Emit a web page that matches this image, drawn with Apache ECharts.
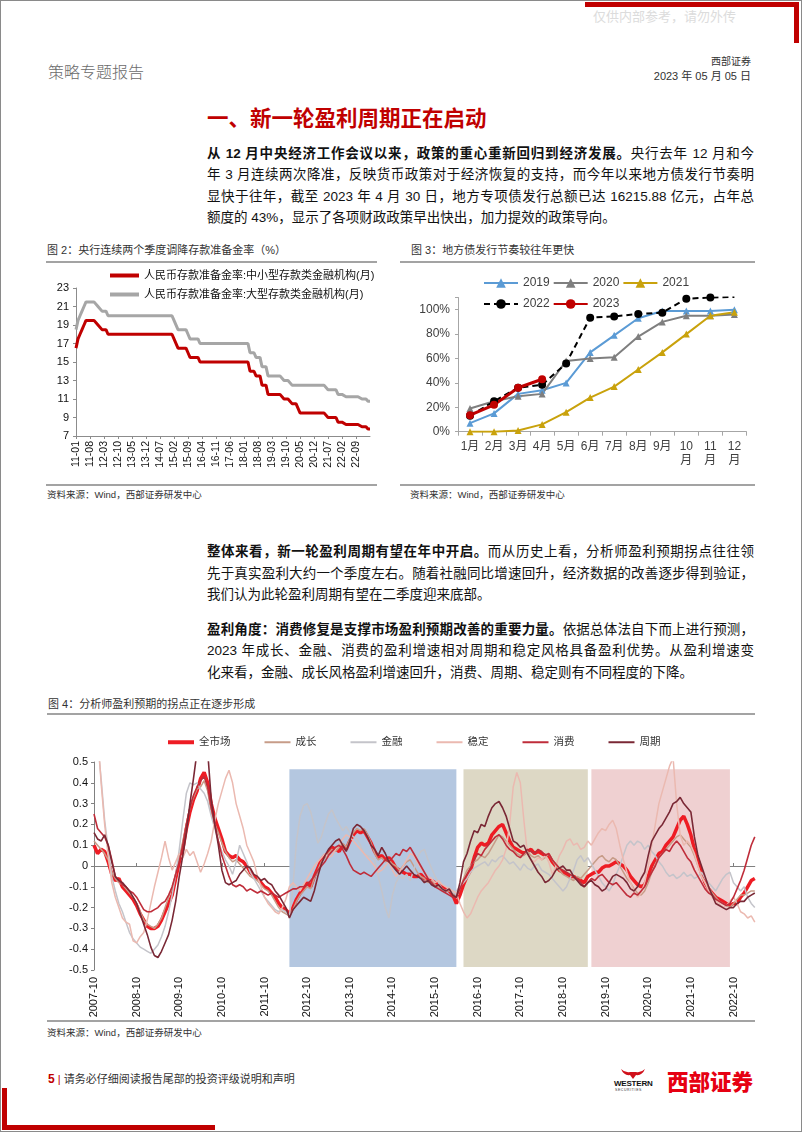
<!DOCTYPE html>
<html><head><meta charset="utf-8">
<script src="https://cdn.jsdelivr.net/npm/echarts/dist/echarts.min.js"></script>
<style>
html,body{margin:0;padding:0;background:#fff;}
#page{position:relative;width:802px;height:1133px;overflow:hidden;font-family:"Liberation Sans","Noto Sans CJK SC",sans-serif;color:#000;}
.a{position:absolute;white-space:nowrap;}
.ln{position:absolute;left:207px;width:547px;font-size:13.5px;line-height:21.5px;height:21.5px;text-align:justify;text-align-last:justify;color:#111;}
.ln.last{text-align-last:left;}
.rule{position:absolute;height:2px;background:#a3a3a3;}
.red{position:absolute;background:#c00000;}
.cap{font-size:11px;color:#333;line-height:14px;}
.src{font-size:9.5px;color:#333;line-height:12px;}
#chart{position:absolute;left:0;top:0;width:802px;height:1133px;}
</style></head>
<body><div id="page">
<div class="a" style="left:0;top:0;width:800px;height:1130px;border:1px solid #8a8a8a;"></div>
<div class="red" style="left:585px;top:2px;width:214px;height:5px;"></div>
<div class="red" style="left:794px;top:2px;width:5px;height:41px;"></div>
<div class="red" style="left:2px;top:1088px;width:5px;height:42px;"></div>
<div class="red" style="left:2px;top:1125px;width:213px;height:5px;"></div>
<div class="a" style="left:593px;top:9px;font-size:13px;line-height:16px;color:#dcdcdc;">仅供内部参考，请勿外传</div>
<div class="a" style="left:48px;top:63px;font-size:16px;line-height:20px;color:#6b6b6b;font-weight:300;">策略专题报告</div>
<div class="a" style="right:51px;top:55px;font-size:10px;line-height:13px;color:#333;">西部证券</div>
<div class="a" style="right:51px;top:70px;font-size:11px;line-height:13px;color:#333;">2023 年 05 月 05 日</div>
<div class="a" style="left:207px;top:106px;font-size:21.5px;line-height:26px;font-weight:bold;color:#c00000;">一、新一轮盈利周期正在启动</div>

<div class="ln" style="top:142.5px;"><b>从 12 月中央经济工作会议以来，政策的重心重新回归到经济发展。</b>央行去年 12 月和今</div>
<div class="ln" style="top:164px;">年 3 月连续两次降准，反映货币政策对于经济恢复的支持，而今年以来地方债发行节奏明</div>
<div class="ln" style="top:185.5px;">显快于往年，截至 2023 年 4 月 30 日，地方专项债发行总额已达 16215.88 亿元，占年总</div>
<div class="ln last" style="top:207px;">额度的 43%，显示了各项财政政策早出快出，加力提效的政策导向。</div>

<div class="a cap" style="left:47px;top:243px;">图 2：央行连续两个季度调降存款准备金率（%）</div>
<div class="a cap" style="left:411px;top:243px;">图 3：地方债发行节奏较往年更快</div>
<div class="rule" style="left:46px;top:261px;width:331px;"></div>
<div class="rule" style="left:400px;top:261px;width:355px;"></div>
<div class="rule" style="left:46px;top:484px;width:331px;"></div>
<div class="rule" style="left:400px;top:484px;width:355px;"></div>
<div class="a src" style="left:47px;top:489px;">资料来源：Wind，西部证券研发中心</div>
<div class="a src" style="left:410px;top:489px;">资料来源：Wind，西部证券研发中心</div>

<div class="ln" style="top:541px;"><b>整体来看，新一轮盈利周期有望在年中开启。</b>而从历史上看，分析师盈利预期拐点往往领</div>
<div class="ln" style="top:562.5px;">先于真实盈利大约一个季度左右。随着社融同比增速回升，经济数据的改善逐步得到验证，</div>
<div class="ln last" style="top:584px;">我们认为此轮盈利周期有望在二季度迎来底部。</div>
<div class="ln" style="top:618.5px;"><b>盈利角度：消费修复是支撑市场盈利预期改善的重要力量。</b>依据总体法自下而上进行预测，</div>
<div class="ln" style="top:640px;">2023 年成长、金融、消费的盈利增速相对周期和稳定风格具备盈利优势。从盈利增速变</div>
<div class="ln last" style="top:661.5px;">化来看，金融、成长风格盈利增速回升，消费、周期、稳定则有不同程度的下降。</div>

<div class="a cap" style="left:48px;top:697px;">图 4：分析师盈利预期的拐点正在逐步形成</div>
<div class="rule" style="left:47px;top:713px;width:708px;"></div>
<div class="rule" style="left:47px;top:1020px;width:708px;"></div>
<div class="a src" style="left:47px;top:1027px;">资料来源：Wind，西部证券研发中心</div>

<div class="a" style="left:48px;top:1071px;font-size:11px;line-height:16px;color:#333;"><span style="color:#c00000;font-weight:bold;font-size:12px;">5</span><span style="color:#c00000;"> | </span>请务必仔细阅读报告尾部的投资评级说明和声明</div>
<svg class="a" style="left:618px;top:1068px;" width="30" height="12" viewBox="0 0 30 12"><path d="M3 1 Q6 8 12 7 L15 11 L18 7 Q24 8 27 1 Q23 5 18 4 L12 4 Q7 5 3 1 Z" fill="#d0101a"/></svg>
<div class="a" style="left:614px;top:1079px;font-size:8px;line-height:9px;font-weight:bold;color:#111;letter-spacing:-0.2px;">WESTERN</div>
<div class="a" style="left:615px;top:1088px;font-size:3.5px;line-height:4px;color:#333;letter-spacing:0.6px;">SECURITIES</div>
<div class="a" style="left:667px;top:1068px;font-size:21.5px;line-height:26px;font-weight:900;color:#e60012;font-family:'Noto Sans CJK SC';">西部证券</div>

<div id="chart"></div>
</div>
<script>
const FONT = '"Liberation Sans","Noto Sans CJK SC",sans-serif';
function pad(n){return (n<10?'0':'')+n;}
function monthSeq(y0,m0,y1,m1,fmt){const out=[];let y=y0,m=m0;while(y<y1||(y===y1&&m<=m1)){out.push(fmt(y,m));m++;if(m>12){m=1;y++;}}return out;}

// ---------- Figure 2: reserve requirement ratio ----------
const rrrMonths = monthSeq(2011,1,2023,4,(y,m)=>pad(y%100)+'-'+pad(m));
const rrrSmallName = '人民币存款准备金率:中小型存款类金融机构(月)';
const rrrLargeName = '人民币存款准备金率:大型存款类金融机构(月)';
const rrrSmall = [
 16.5,17.5,18,18.5,19,19.5,19.5,19.5,19.5,19.5,19.5,19,
 19,18.5,18.5,18.5,18,18,18,18,18,18,18,18,
 18,18,18,18,18,18,18,18,18,18,18,18,
 18,18,18,18,18,18,18,18,18,18,18,18,
 18,17.5,17.5,16.5,16.5,16.5,16.5,16.5,16,15.5,15.5,15.5,
 15.5,15.5,15,15,15,15,15,15,15,15,15,15,
 15,15,15,15,15,15,15,15,15,15,15,15,
 15,15,15,14,14,14,13.5,13.5,13.5,12.5,12.5,12.5,
 11.5,11.5,11.5,11.5,11.5,11.5,11.5,11.5,11,11,11,11,
 10.5,10.5,10.5,10.5,9.5,9.5,9.5,9.5,9.5,9.5,9.5,9.5,
 9.5,9.5,9.5,9.5,9.5,9.5,9,9,9,9,9,8.5,
 8.5,8.5,8.5,8.25,8.25,8.25,8.25,8.25,8.25,8.25,8.25,8,
 8,8,7.75,7.75
];
const rrrLarge = [
 18.5,19.5,20,20.5,21,21.5,21.5,21.5,21.5,21.5,21.5,21,
 21,20.5,20.5,20.5,20,20,20,20,20,20,20,20,
 20,20,20,20,20,20,20,20,20,20,20,20,
 20,20,20,20,20,20,20,20,20,20,20,20,
 20,19.5,19.5,18.5,18.5,18.5,18.5,18.5,18,17.5,17.5,17.5,
 17.5,17.5,17,17,17,17,17,17,17,17,17,17,
 17,17,17,17,17,17,17,17,17,17,17,17,
 17,17,17,16,16,16,15.5,15.5,15.5,14.5,14.5,14.5,
 13.5,13.5,13.5,13.5,13.5,13.5,13.5,13.5,13,13,13,13,
 12.5,12.5,12.5,12.5,12.5,12.5,12.5,12.5,12.5,12.5,12.5,12.5,
 12.5,12.5,12.5,12.5,12.5,12.5,12,12,12,12,12,11.5,
 11.5,11.5,11.5,11.25,11.25,11.25,11.25,11.25,11.25,11.25,11.25,11,
 11,11,10.75,10.75
];

// ---------- Figure 3: local bond issuance progress ----------
const bondMonths = ['1月','2月','3月','4月','5月','6月','7月','8月','9月','10月','11月','12月'];
const bond2019 = [0.07,0.15,0.31,0.34,0.40,0.65,0.79,0.93,0.99,0.99,0.99,1.00];
const bond2020 = [0.19,0.25,0.29,0.31,0.58,0.60,0.61,0.78,0.90,0.95,0.95,0.96];
const bond2021 = [0.00,0.00,0.01,0.06,0.16,0.28,0.37,0.51,0.65,0.80,0.95,0.98];
const bond2022 = [0.13,0.25,0.36,0.385,0.56,0.935,0.945,0.965,0.975,1.09,1.10,1.105];
const bond2023 = [0.135,0.22,0.36,0.43];

// ---------- Figure 4: analyst earnings expectations ----------
const epsMonths = monthSeq(2007,10,2023,4,(y,m)=>y+'-'+pad(m));
const epsAll = [
 0.10,0.06,0.08,0.07,0.02,-0.04,-0.07,-0.06,-0.10,-0.12,-0.14,-0.16,
 -0.19,-0.23,-0.26,-0.29,-0.30,-0.30,-0.29,-0.26,-0.22,-0.18,-0.14,-0.06,
 0.02,0.08,0.18,0.26,0.32,0.36,0.42,0.45,0.40,0.30,0.23,0.18,
 0.13,0.07,0.05,0.04,0.05,0.03,0.02,0.00,-0.03,-0.05,-0.06,-0.08,
 -0.10,-0.11,-0.13,-0.15,-0.18,-0.20,-0.21,-0.23,-0.20,-0.16,-0.13,-0.11,
 -0.08,-0.10,-0.05,-0.01,0.03,0.05,0.06,0.09,0.08,0.07,0.10,0.08,
 0.12,0.15,0.17,0.16,0.17,0.14,0.11,0.07,0.04,0.05,0.03,0.04,
 0.02,-0.01,-0.02,-0.03,-0.04,-0.04,-0.05,-0.05,-0.04,-0.06,-0.07,-0.07,
 -0.08,-0.09,-0.10,-0.11,-0.12,-0.14,-0.18,-0.14,-0.09,-0.05,-0.02,0.04,
 0.09,0.11,0.10,0.11,0.15,0.17,0.19,0.20,0.16,0.12,0.09,0.08,
 0.07,0.06,0.07,0.08,0.06,0.07,0.06,0.05,0.05,0.02,0.00,-0.02,
 -0.03,-0.04,-0.05,-0.05,-0.06,-0.07,-0.08,-0.05,-0.04,-0.03,-0.03,-0.01,
 0.00,0.00,0.01,0.02,0.01,0.00,-0.02,-0.05,-0.07,-0.09,-0.10,-0.09,
 -0.05,0.00,0.03,0.06,0.07,0.10,0.12,0.14,0.18,0.22,0.24,0.20,
 0.15,0.08,0.03,-0.03,-0.08,-0.11,-0.13,-0.15,-0.16,-0.17,-0.18,-0.19,
 -0.18,-0.18,-0.15,-0.13,-0.10,-0.07,-0.06
];
const epsGrowth = [
 0.12,0.10,0.08,0.06,0.03,-0.03,-0.06,-0.08,-0.09,-0.11,-0.13,-0.15,
 -0.18,-0.22,-0.26,-0.28,-0.29,-0.30,-0.28,-0.25,-0.20,-0.15,-0.10,-0.04,
 0.04,0.12,0.20,0.28,0.33,0.37,0.38,0.41,0.36,0.26,0.20,0.16,
 0.11,0.07,0.04,0.02,0.03,0.01,-0.01,-0.03,-0.05,-0.06,-0.07,-0.09,
 -0.11,-0.12,-0.14,-0.17,-0.20,-0.22,-0.23,-0.24,-0.21,-0.17,-0.14,-0.12,
 -0.10,-0.11,-0.06,-0.02,0.02,0.04,0.06,0.08,0.07,0.09,0.11,0.09,
 0.13,0.16,0.18,0.17,0.18,0.15,0.11,0.06,0.03,0.04,0.02,0.03,
 0.01,0.00,-0.02,0.00,0.02,0.03,0.00,-0.03,-0.05,-0.06,-0.08,-0.07,
 -0.09,-0.10,-0.11,-0.12,-0.12,-0.13,-0.15,-0.11,-0.06,-0.02,0.00,0.02,
 0.03,0.05,0.04,0.06,0.09,0.12,0.15,0.14,0.12,0.10,0.08,0.06,
 0.05,0.05,0.07,0.05,0.04,0.05,0.03,0.04,0.06,0.03,0.00,-0.02,
 -0.04,-0.05,-0.06,-0.07,-0.05,-0.06,-0.04,-0.02,0.00,0.02,0.04,0.05,
 0.03,0.02,0.04,0.03,0.00,-0.03,-0.06,-0.08,-0.11,-0.13,-0.14,-0.12,
 -0.08,-0.03,0.01,0.04,0.06,0.08,0.10,0.12,0.14,0.15,0.13,0.11,
 0.09,0.05,0.00,-0.05,-0.08,-0.10,-0.13,-0.15,-0.17,-0.18,-0.19,-0.20,
 -0.18,-0.16,-0.14,-0.14,-0.13,-0.12,-0.12
];
const epsFinance = [
 0.70,0.60,0.42,0.22,0.08,-0.05,-0.12,-0.18,-0.22,-0.27,-0.32,-0.35,
 -0.37,-0.39,-0.40,-0.41,-0.42,-0.40,-0.38,-0.34,-0.29,-0.22,-0.14,-0.04,
 0.08,0.22,0.35,0.40,0.39,0.40,0.37,0.35,0.31,0.24,0.18,0.12,
 0.07,0.03,0.00,-0.04,0.02,0.10,0.06,0.02,-0.03,-0.06,-0.09,-0.12,
 -0.15,-0.17,-0.19,-0.21,-0.22,-0.21,-0.22,-0.24,-0.10,0.12,0.24,0.29,
 0.30,0.26,0.19,0.11,0.14,0.20,0.25,0.27,0.23,0.20,0.17,0.19,
 0.16,0.14,0.13,0.10,0.06,0.05,0.04,0.03,-0.05,-0.12,-0.20,-0.25,
 -0.14,-0.08,-0.05,-0.06,-0.04,-0.07,-0.02,0.04,0.07,0.08,0.03,-0.01,
 -0.05,-0.08,-0.11,-0.12,-0.10,-0.13,-0.12,-0.10,-0.08,-0.06,-0.03,-0.01,
 0.00,0.01,0.02,0.00,0.03,0.02,0.04,0.05,0.03,0.01,0.02,0.00,
 -0.02,0.01,-0.01,-0.02,0.00,0.01,-0.02,-0.03,-0.04,-0.06,-0.08,-0.10,
 -0.12,-0.10,-0.06,-0.02,0.03,0.05,0.02,0.04,0.01,-0.02,-0.05,-0.08,
 -0.10,-0.12,-0.09,-0.04,0.00,0.05,0.10,0.12,0.10,0.12,0.11,0.08,
 0.10,0.07,0.05,0.02,0.00,-0.03,-0.05,-0.04,-0.06,-0.05,-0.03,-0.05,
 -0.04,-0.06,-0.05,-0.03,-0.06,-0.08,-0.10,-0.12,-0.09,-0.06,-0.04,-0.03,
 -0.08,-0.10,-0.12,-0.10,-0.15,-0.18,-0.20
];
const epsStable = [
 0.80,0.65,0.40,0.20,0.05,-0.08,-0.15,-0.20,-0.25,-0.27,-0.28,-0.36,
 -0.37,-0.34,-0.32,-0.26,-0.18,-0.10,-0.03,0.04,0.12,0.04,-0.02,0.02,
 0.06,0.04,0.08,0.05,0.07,0.02,-0.03,0.01,0.06,0.12,0.22,0.30,
 0.36,0.42,0.46,0.40,0.30,0.24,0.18,0.10,0.06,0.02,-0.05,-0.10,
 -0.15,-0.18,-0.20,-0.22,-0.23,-0.20,-0.16,-0.10,-0.08,-0.10,-0.12,-0.09,
 -0.06,-0.03,0.00,0.02,0.04,0.06,0.04,0.05,0.08,0.10,0.13,0.15,
 0.14,0.12,0.10,0.08,0.06,0.04,0.02,0.00,-0.03,-0.02,0.00,0.02,
 -0.02,-0.05,-0.03,0.00,0.03,0.06,0.05,0.02,-0.01,-0.03,-0.05,-0.06,
 -0.08,-0.07,-0.09,-0.10,-0.11,-0.12,-0.13,-0.18,-0.22,-0.25,-0.23,-0.19,
 -0.15,-0.12,-0.10,-0.08,-0.05,-0.02,0.00,0.03,0.08,0.20,0.38,0.45,
 0.40,0.22,0.06,0.03,0.02,0.04,0.03,0.05,0.02,-0.04,0.00,0.05,
 0.08,0.12,0.13,0.10,0.11,0.08,0.09,0.12,0.10,0.13,0.16,0.18,
 0.17,0.20,0.22,0.18,0.10,0.03,-0.03,-0.08,-0.12,-0.15,-0.13,-0.08,
 0.00,0.10,0.20,0.30,0.36,0.42,0.48,0.52,0.30,0.15,0.10,0.12,
 0.10,0.06,0.00,-0.05,-0.08,-0.12,-0.15,-0.17,-0.18,-0.20,-0.19,-0.17,
 -0.15,-0.18,-0.22,-0.23,-0.25,-0.24,-0.27
];
const epsConsumer = [
 0.25,0.18,0.16,0.14,0.10,0.03,-0.05,-0.07,-0.09,-0.10,-0.12,-0.13,
 -0.15,-0.18,-0.21,-0.22,-0.22,-0.21,-0.20,-0.18,-0.17,-0.14,-0.10,-0.04,
 0.02,0.10,0.20,0.28,0.34,0.38,0.41,0.43,0.38,0.28,0.20,0.12,
 0.05,0.00,-0.05,-0.09,-0.10,-0.09,-0.10,-0.12,-0.11,-0.12,-0.13,-0.12,
 -0.13,-0.14,-0.13,-0.14,-0.15,-0.14,-0.13,-0.12,-0.11,-0.11,-0.10,-0.10,
 -0.09,-0.07,-0.05,-0.02,0.00,0.02,0.05,0.07,0.09,0.10,0.08,0.05,
 0.01,-0.02,-0.03,-0.04,-0.03,-0.04,-0.05,-0.03,-0.01,0.01,0.03,0.02,
 0.04,0.06,0.05,0.08,0.07,0.09,0.06,0.03,0.00,-0.03,-0.06,-0.08,
 -0.10,-0.11,-0.12,-0.13,-0.14,-0.15,-0.15,-0.11,-0.07,-0.04,-0.01,0.03,
 0.06,0.05,0.08,0.10,0.12,0.14,0.15,0.13,0.10,0.08,0.07,0.05,
 0.04,0.06,0.08,0.07,0.06,0.08,0.07,0.05,0.06,0.03,0.01,-0.01,
 -0.02,-0.03,-0.04,-0.05,-0.06,-0.08,-0.10,-0.08,-0.06,-0.07,-0.05,-0.04,
 -0.06,-0.08,-0.09,-0.08,-0.10,-0.12,-0.14,-0.15,-0.13,-0.14,-0.12,-0.10,
 -0.06,-0.03,0.00,0.04,0.06,0.08,0.07,0.10,0.12,0.10,0.07,0.04,
 0.02,-0.02,-0.05,-0.08,-0.11,-0.13,-0.14,-0.16,-0.17,-0.18,-0.19,-0.18,
 -0.15,-0.11,-0.07,-0.02,0.04,0.10,0.14
];
const epsCyclical = [
 0.16,0.13,0.12,0.15,0.10,0.02,-0.05,-0.07,-0.08,-0.10,-0.12,-0.15,
 -0.18,-0.23,-0.28,-0.33,-0.39,-0.43,-0.44,-0.41,-0.37,-0.33,-0.26,-0.17,
 -0.05,0.05,0.16,0.30,0.42,0.55,0.62,0.60,0.55,0.32,0.20,0.10,
 -0.02,-0.08,-0.09,-0.08,-0.07,-0.04,-0.02,0.00,-0.01,-0.04,-0.05,-0.07,
 -0.06,-0.08,-0.09,-0.12,-0.14,-0.17,-0.20,-0.25,-0.21,-0.19,-0.17,-0.15,
 -0.16,-0.17,-0.12,-0.05,0.01,0.05,0.08,0.10,0.12,0.13,0.10,0.07,
 0.12,0.18,0.20,0.19,0.17,0.14,0.10,0.08,0.05,0.09,0.06,0.02,
 0.00,-0.02,-0.04,-0.02,0.00,-0.02,-0.04,-0.05,-0.06,-0.08,-0.07,-0.09,
 -0.10,-0.09,-0.11,-0.12,-0.11,-0.14,-0.15,-0.08,0.02,0.06,0.12,0.17,
 0.16,0.20,0.19,0.24,0.28,0.30,0.31,0.28,0.24,0.18,0.12,0.11,
 0.09,0.10,0.06,0.03,0.00,-0.03,-0.05,-0.08,-0.07,-0.05,-0.02,-0.01,
 0.00,-0.02,-0.02,-0.05,-0.07,-0.09,-0.10,-0.08,-0.07,-0.09,-0.10,-0.12,
 -0.11,-0.08,-0.05,-0.04,-0.05,-0.06,-0.08,-0.11,-0.12,-0.10,-0.06,-0.03,
 0.05,0.12,0.15,0.18,0.20,0.23,0.26,0.30,0.31,0.33,0.30,0.28,
 0.26,0.14,0.05,0.00,-0.05,-0.10,-0.14,-0.18,-0.19,-0.20,-0.21,-0.20,
 -0.20,-0.18,-0.17,-0.17,-0.15,-0.14,-0.13
];
const epsNames = ['全市场','成长','金融','稳定','消费','周期'];
const epsPeriods = [
 ['2012-05','2016-04','#b4c7e0'],
 ['2016-06','2019-05','#ddd8c5'],
 ['2019-06','2022-09','#efd0d1']
];

const axisGray = '#8c8c8c';
const chart = echarts.init(document.getElementById('chart'), null, {renderer:'canvas'});
const lineEps = (name, data, color, width, extra) => Object.assign({
  name, type:'line', xAxisIndex:2, yAxisIndex:2, data, symbol:'none', showSymbol:false,
  lineStyle:{color, width}, itemStyle:{color}, emphasis:{disabled:true}, silent:true
}, extra||{});
const barIcon = (w,h) => 'path://M0,0H'+w+'V'+h+'H0Z';

const option = {
  backgroundColor:'transparent',
  animation:false,
  textStyle:{fontFamily:FONT},
  legend:[
    {left:110, top:270, orient:'vertical', padding:0, itemWidth:29, itemHeight:12, itemGap:8,
     selectedMode:false, textStyle:{fontSize:11, color:'#111', fontFamily:FONT},
     data:[{name:rrrSmallName, icon:barIcon(29,4)}, {name:rrrLargeName, icon:barIcon(29,4)}]},
    {left:483, top:277, padding:0, itemWidth:34, itemHeight:12, itemGap:3, selectedMode:false,
     textStyle:{fontSize:12, color:'#404040', fontFamily:FONT}, data:['2019','2020','2021']},
    {left:483, top:298, padding:0, itemWidth:34, itemHeight:12, itemGap:3, selectedMode:false,
     textStyle:{fontSize:12, color:'#404040', fontFamily:FONT}, data:['2022','2023']},
    {left:168, top:737, padding:0, itemWidth:26, itemHeight:12, itemGap:34, selectedMode:false,
     textStyle:{fontSize:10.5, color:'#333', fontFamily:FONT},
     data:epsNames.map((n,i)=>({name:n, icon: i===0 ? barIcon(26,4) : barIcon(26,2)}))}
  ],
  grid:[
    {left:76, top:288, width:294, height:148},
    {left:458, top:297.5, width:288.4, height:134.2},
    {left:94, top:762, width:660.8, height:208}
  ],
  xAxis:[
    {gridIndex:0, type:'category', data:rrrMonths, boundaryGap:false,
     axisLine:{lineStyle:{color:axisGray}}, axisTick:{show:true, interval:6, length:3, lineStyle:{color:axisGray}},
     axisLabel:{interval:6, rotate:90, fontSize:10.5, color:'#111', margin:5, showMaxLabel:false}, splitLine:{show:false}},
    {gridIndex:1, type:'category', data:bondMonths, boundaryGap:true,
     axisLine:{lineStyle:{color:'#a6a6a6'}}, axisTick:{show:true, length:4, lineStyle:{color:'#a6a6a6'}},
     axisLabel:{interval:0, fontSize:12, color:'#404040', margin:8, lineHeight:14,
       formatter:v=>v.length>2 ? v.slice(0,2)+'\n'+v.slice(2) : v}, splitLine:{show:false}},
    {gridIndex:2, type:'category', data:epsMonths, boundaryGap:false, position:'bottom',
     axisLine:{onZero:true, lineStyle:{color:'#808080', width:1}},
     axisTick:{show:true, inside:true, interval:11, length:3, lineStyle:{color:'#808080'}},
     axisLabel:{show:false}, splitLine:{show:false}},
    {gridIndex:2, type:'category', data:epsMonths, boundaryGap:false, position:'bottom',
     axisLine:{show:false, onZero:false}, axisTick:{show:false},
     axisLabel:{interval:11, rotate:90, fontSize:11, color:'#111', margin:7}, splitLine:{show:false}}
  ],
  yAxis:[
    {gridIndex:0, type:'value', min:7, max:23, interval:2,
     axisLine:{show:true, onZero:false, lineStyle:{color:axisGray}}, axisTick:{show:true, length:3, lineStyle:{color:axisGray}},
     axisLabel:{fontSize:11, color:'#111', margin:7}, splitLine:{show:false}},
    {gridIndex:1, type:'value', min:0, max:1.1, interval:0.2,
     axisLine:{show:true, onZero:false, lineStyle:{color:'#a6a6a6'}}, axisTick:{show:true, length:3, lineStyle:{color:'#a6a6a6'}},
     axisLabel:{fontSize:12, color:'#404040', margin:8,
       formatter:v=> v>1.001 ? '' : Math.round(v*100)+'%'}, splitLine:{show:false}},
    {gridIndex:2, type:'value', min:-0.5, max:0.5, interval:0.1,
     axisLine:{show:true, onZero:false, lineStyle:{color:'#808080'}}, axisTick:{show:true, length:3, lineStyle:{color:'#808080'}},
     axisLabel:{fontSize:11, color:'#111', margin:6}, splitLine:{show:false}}
  ],
  series:[
    {name:rrrLargeName, type:'line', xAxisIndex:0, yAxisIndex:0, data:rrrLarge, symbol:'none',
     lineStyle:{color:'#a6a6a6', width:3}, itemStyle:{color:'#a6a6a6'}, silent:true},
    {name:rrrSmallName, type:'line', xAxisIndex:0, yAxisIndex:0, data:rrrSmall, symbol:'none',
     lineStyle:{color:'#c00000', width:3}, itemStyle:{color:'#c00000'}, silent:true},

    {name:'2019', type:'line', xAxisIndex:1, yAxisIndex:1, data:bond2019, symbol:'triangle', symbolSize:7,
     lineStyle:{color:'#5b9bd5', width:2}, itemStyle:{color:'#5b9bd5'}, silent:true},
    {name:'2020', type:'line', xAxisIndex:1, yAxisIndex:1, data:bond2020, symbol:'triangle', symbolSize:7,
     lineStyle:{color:'#7f7f7f', width:2}, itemStyle:{color:'#7f7f7f'}, silent:true},
    {name:'2021', type:'line', xAxisIndex:1, yAxisIndex:1, data:bond2021, symbol:'triangle', symbolSize:7,
     lineStyle:{color:'#c9a20c', width:2}, itemStyle:{color:'#c9a20c'}, silent:true},
    {name:'2022', type:'line', xAxisIndex:1, yAxisIndex:1, data:bond2022, symbol:'circle', symbolSize:8,
     lineStyle:{color:'#000', width:2, type:[6,4]}, itemStyle:{color:'#000'}, silent:true},
    {name:'2023', type:'line', xAxisIndex:1, yAxisIndex:1, data:bond2023, symbol:'circle', symbolSize:8,
     lineStyle:{color:'#c00000', width:3}, itemStyle:{color:'#c00000'}, silent:true},

    lineEps('全市场', epsAll, '#ee1c24', 3.5, {
      markArea:{silent:true, z:1, itemStyle:{opacity:1},
        data: epsPeriods.map(p=>[{xAxis:p[0], yAxis:0.465, itemStyle:{color:p[2]}},{xAxis:p[1], yAxis:-0.485}])}
    }),
    lineEps('成长', epsGrowth, '#c79c88', 1.5),
    lineEps('金融', epsFinance, '#c4c4ca', 1.5),
    lineEps('稳定', epsStable, '#ebb9b0', 1.5),
    lineEps('消费', epsConsumer, '#bf2d3a', 1.6),
    lineEps('周期', epsCyclical, '#7a2835', 1.6)
  ]
};
chart.setOption(option);
</script>
</body></html>
